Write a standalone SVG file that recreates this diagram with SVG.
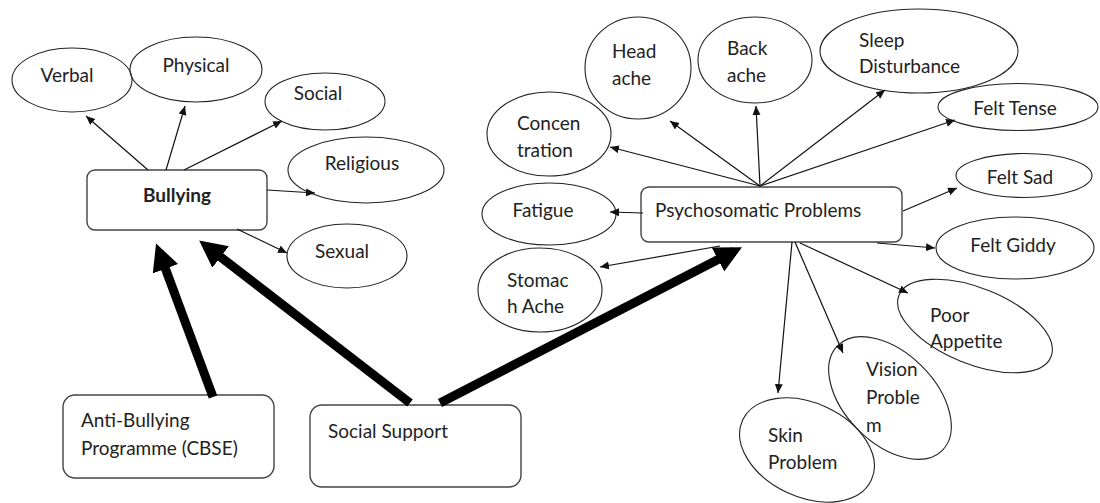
<svg xmlns="http://www.w3.org/2000/svg" width="1100" height="503" viewBox="0 0 1100 503">
<style>
text{font-family:Lato,"Open Sans","Liberation Sans",sans-serif;font-size:19px;fill:#222}
.m{text-anchor:middle}
.b{font-weight:bold}
.el{fill:none;stroke:#222;stroke-width:1.1}
.bx{fill:#fff;stroke:#444;stroke-width:1.4}
.thin{stroke:#111;stroke-width:1.2;fill:none;marker-end:url(#ah)}
.thick{stroke:#000;stroke-width:9;fill:none;marker-end:url(#bh)}
</style>
<defs>
<marker id="ah" markerUnits="userSpaceOnUse" markerWidth="10" markerHeight="10" refX="9" refY="4" orient="auto"><path d="M0,0 L9,4 L0,8 z" fill="#111"/></marker>
<marker id="bh" markerUnits="strokeWidth" markerWidth="3.2" markerHeight="3.2" refX="2" refY="1.5" orient="auto"><path d="M0,0 L3,1.5 L0,3 z" fill="#000"/></marker>
</defs>
<rect width="1100" height="503" fill="#fff"/>
<g id="bullying"><rect class="bx" x="87" y="170" width="180" height="60" rx="8"/><text class="m b" x="177" y="202">Bullying</text></g>
<g id="verbal"><ellipse class="el" cx="72" cy="80" rx="60" ry="32"/><text class="m" x="67" y="82">Verbal</text></g>
<g id="physical"><ellipse class="el" cx="196" cy="69.5" rx="66" ry="32.5"/><text class="m" x="196" y="72">Physical</text></g>
<g id="social"><ellipse class="el" cx="325" cy="101.5" rx="60" ry="28.5"/><text class="m" x="318" y="100">Social</text></g>
<g id="religious"><ellipse class="el" cx="366" cy="170" rx="78" ry="33"/><text class="m" x="362" y="170">Religious</text></g>
<g id="sexual"><ellipse class="el" cx="347" cy="256" rx="60" ry="32"/><text class="m" x="342" y="258">Sexual</text></g>
<g id="anti-bullying"><rect class="bx" x="63" y="395" width="211" height="83" rx="12"/><text x="81" y="427">Anti-Bullying</text><text x="81" y="455">Programme (CBSE)</text></g>
<g id="social-support"><rect class="bx" x="310" y="405" width="211" height="82" rx="12"/><text x="328" y="438">Social Support</text></g>
<g id="psychosomatic"><rect class="bx" x="641" y="187" width="261" height="55" rx="8"/><text x="655" y="217">Psychosomatic Problems</text></g>
<g id="headache"><ellipse class="el" cx="638" cy="68" rx="53" ry="51"/><text x="612" y="58">Head</text><text x="612" y="85">ache</text></g>
<g id="backache"><ellipse class="el" cx="755" cy="60" rx="57" ry="43"/><text x="727" y="55">Back</text><text x="727" y="82">ache</text></g>
<g id="concentration"><ellipse class="el" cx="549" cy="134" rx="62" ry="42"/><text x="517" y="130">Concen</text><text x="517" y="157">tration</text></g>
<g id="sleep"><ellipse class="el" cx="919" cy="51" rx="99" ry="42"/><text x="859" y="47">Sleep</text><text x="859" y="73">Disturbance</text></g>
<g id="felt-tense"><ellipse class="el" cx="1018" cy="107" rx="80" ry="23.5"/><text class="m" x="1015" y="115">Felt Tense</text></g>
<g id="felt-sad"><ellipse class="el" cx="1024" cy="175.5" rx="68" ry="22"/><text class="m" x="1020" y="184">Felt Sad</text></g>
<g id="felt-giddy"><ellipse class="el" cx="1015" cy="248" rx="79" ry="31"/><text class="m" x="1013" y="252">Felt Giddy</text></g>
<g id="fatigue"><ellipse class="el" cx="549" cy="214" rx="67" ry="31"/><text class="m" x="543" y="217">Fatigue</text></g>
<g id="stomach"><ellipse class="el" cx="540" cy="290" rx="62" ry="42"/><text x="507" y="287">Stomac</text><text x="507" y="313">h Ache</text></g>
<g id="poor-appetite"><ellipse class="el" cx="975" cy="326" rx="82" ry="38" transform="rotate(22 975 326)"/><text x="930" y="322">Poor</text><text x="930" y="348">Appetite</text></g>
<g id="vision"><ellipse class="el" cx="890" cy="398" rx="74" ry="45" transform="rotate(45 890 398)"/><text x="866" y="376">Vision</text><text x="866" y="404">Proble</text><text x="866" y="432">m</text></g>
<g id="skin"><ellipse class="el" cx="807" cy="450" rx="71" ry="47" transform="rotate(25 807 450)"/><text x="768" y="442">Skin</text><text x="768" y="469">Problem</text></g>
<g id="connectors">
<line class="thin" x1="148" y1="170" x2="86" y2="116"/>
<line class="thin" x1="166" y1="170" x2="185" y2="106"/>
<line class="thin" x1="184" y1="170" x2="282" y2="121"/>
<line class="thin" x1="267" y1="190" x2="315" y2="193"/>
<line class="thin" x1="237" y1="229" x2="287" y2="253"/>
<line class="thin" x1="760" y1="186" x2="610" y2="147"/>
<line class="thin" x1="760" y1="186" x2="670" y2="121"/>
<line class="thin" x1="760" y1="186" x2="756" y2="106"/>
<line class="thin" x1="760" y1="186" x2="885" y2="90"/>
<line class="thin" x1="760" y1="186" x2="955" y2="120"/>
<line class="thin" x1="643" y1="213" x2="610" y2="212"/>
<line class="thin" x1="720" y1="246" x2="600" y2="267"/>
<line class="thin" x1="903" y1="211" x2="957" y2="188"/>
<line class="thin" x1="877" y1="243" x2="935" y2="248"/>
<line class="thin" x1="800" y1="243" x2="908" y2="293"/>
<line class="thin" x1="792" y1="242" x2="778" y2="393"/>
<line class="thin" x1="795" y1="242" x2="843" y2="353"/>
<line class="thick" x1="213" y1="397" x2="159.2" y2="251.9"/>
<line class="thick" x1="410" y1="403" x2="206.3" y2="246"/>
<line class="thick" x1="440" y1="403" x2="734" y2="251.3"/>
</g>
</svg>
